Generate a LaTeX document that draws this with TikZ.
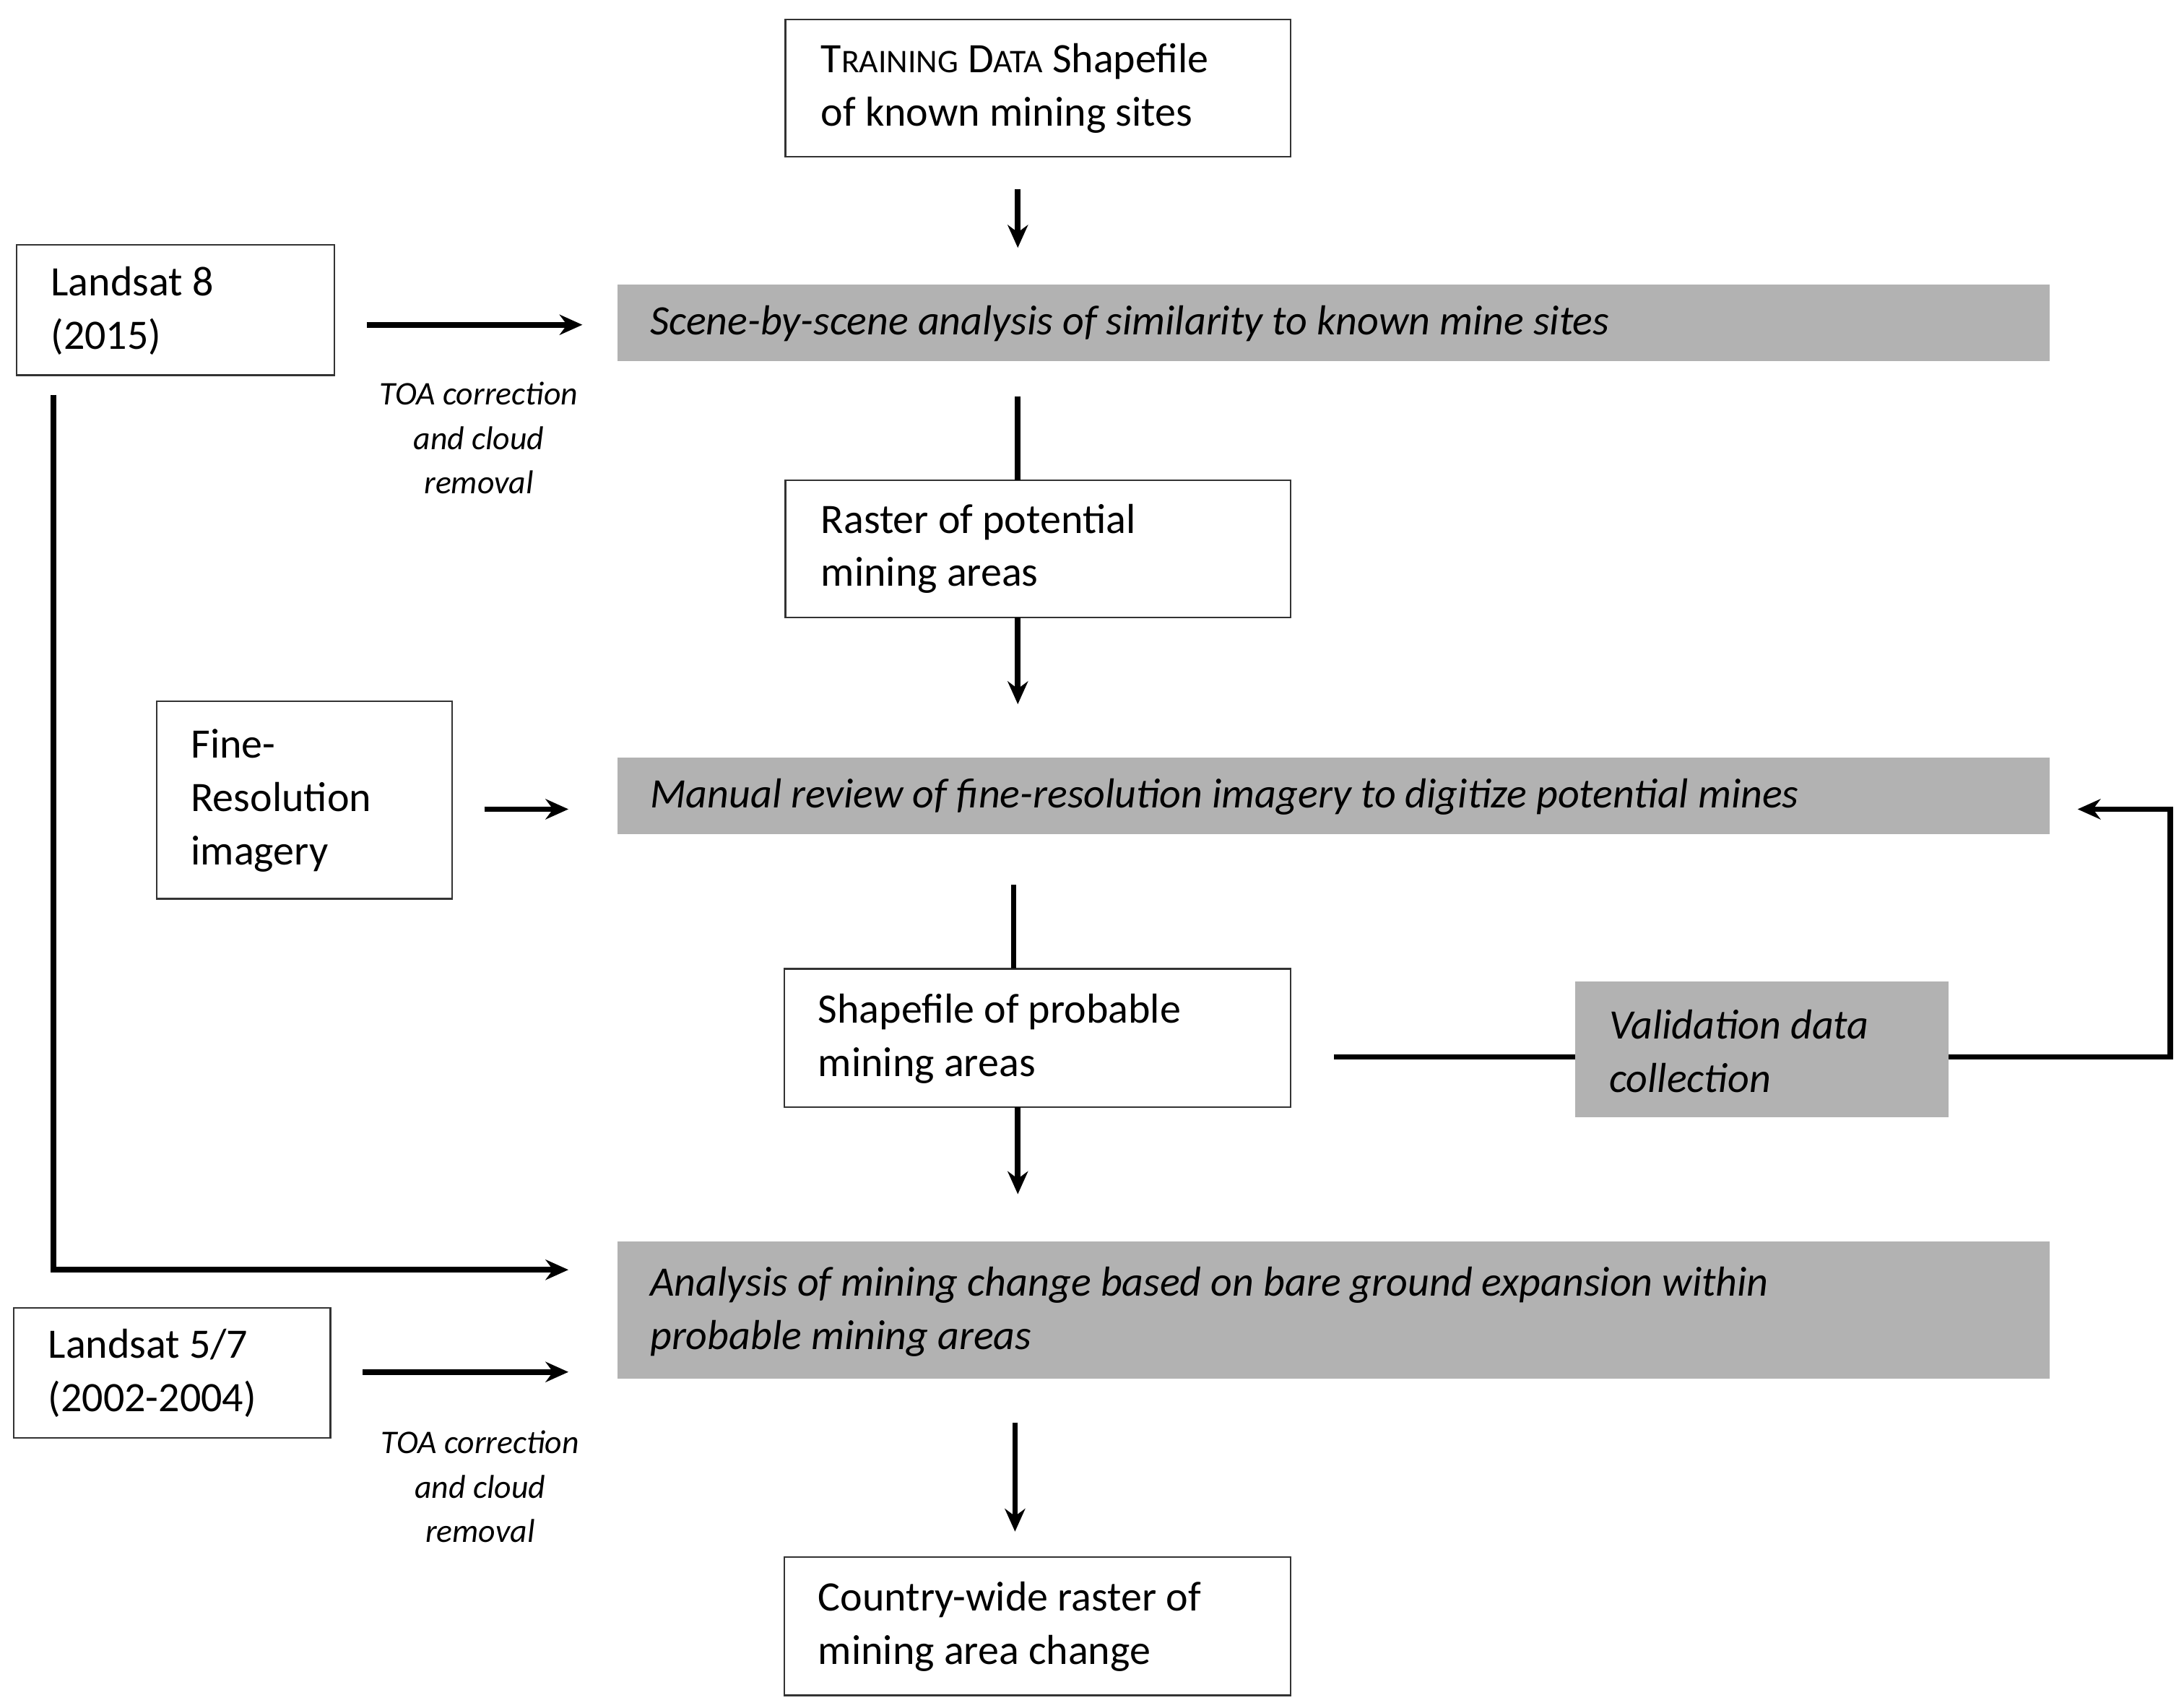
\documentclass[tikz,border=0pt]{standalone}
\usepackage{fontspec}
\setmainfont{Carlito}
\usetikzlibrary{arrows.meta}
\begin{document}
\begin{tikzpicture}[x=0.019385cm,y=-0.019385cm,
  box/.style={draw=black!80,line width=0.6pt,fill=white,align=left,inner sep=0pt},
  bar/.style={fill=black!30,draw=none,inner sep=0pt},
  txt/.style={font=\fontsize{16.5pt}{21pt}\selectfont,anchor=west,align=left},
  itxt/.style={font=\fontsize{16.5pt}{21pt}\selectfont\itshape,anchor=west,align=left},
  note/.style={font=\fontsize{13pt}{17.5pt}\selectfont\itshape,align=center},
  con/.style={line width=2.2pt},
  arr/.style={con,-{Stealth[length=9pt,width=8pt]}}]
\useasboundingbox (0,0) rectangle (1560,1220);
% boxes
\path[box] (561,14) rectangle (922,112); \node[txt] (train) at (580,63) {T{\fontsize{13pt}{21pt}\selectfont RAINING} D{\fontsize{13pt}{21pt}\selectfont ATA} Shapefile\\of known mining sites};
\path[box] (12,175) rectangle (239,268); \node[txt] (l8) at (30,222) {Landsat 8\\(2015)};
\path[bar] (441,203) rectangle (1464,258); \node[itxt] (b1) at (458,231) {Scene-by-scene analysis of similarity to known mine sites};
\node[note] (toa1) at (342,313) {TOA correction\\and cloud\\removal};
\path[box] (561,343) rectangle (922,441); \node[txt] (raster) at (580,392) {Raster of potential\\mining areas};
\path[box] (112,501) rectangle (323,642); \node[txt] (fine) at (130,572) {Fine-\\Resolution\\imagery};
\path[bar] (441,541) rectangle (1464,596); \node[itxt] (b2) at (458,569) {Manual review of fine-resolution imagery to digitize potential mines};
\path[box] (560,692) rectangle (922,791); \node[txt] (shp) at (578,742) {Shapefile of probable\\mining areas};
\path[bar] (1125,701) rectangle (1392,798); \node[itxt] (val) at (1143,751) {Validation data\\collection};
\path[bar] (441,887) rectangle (1464,985); \node[itxt] (b3) at (458,937) {Analysis of mining change based on bare ground expansion within\\probable mining areas};
\path[box] (10,934) rectangle (236,1027); \node[txt] (l57) at (28,981) {Landsat 5/7\\(2002-2004)};
\node[note] (toa2) at (343,1062) {TOA correction\\and cloud\\removal};
\path[box] (560,1112) rectangle (922,1211); \node[txt] (country) at (578,1162) {Country-wide raster of\\mining area change};
% connectors
\draw[arr] (727,135) -- (727,177);
\draw[arr] (262,232) -- (416,232);
\draw[con] (727,283) -- (727,343);
\draw[arr] (727,441) -- (727,503);
\draw[arr] (346,578) -- (406,578);
\draw[con] (724,632) -- (724,692);
\draw[con] (953,755) -- (1125,755);
\draw[arr] (1392,755) -- (1550,755) -- (1550,578) -- (1484,578);
\draw[arr] (727,791) -- (727,853);
\draw[arr] (38,282) -- (38,907) -- (406,907);
\draw[arr] (259,980) -- (406,980);
\draw[arr] (725,1016) -- (725,1094);
\end{tikzpicture}
\end{document}
